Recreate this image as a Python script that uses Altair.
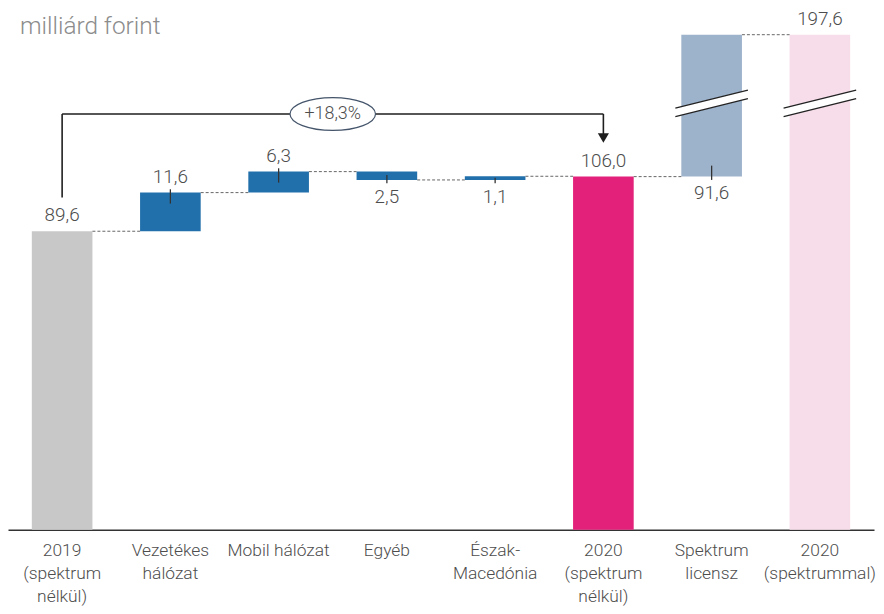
import altair as alt
import pandas as pd

# ---------------- data ----------------
categories = ["2019|(spektrum|nélkül)", "Vezetékes|hálózat", "Mobil hálózat", "Egyéb",
              "Észak-|Macedónia", "2020|(spektrum|nélkül)", "Spektrum|licensz", "2020|(spektrummal)"]
values = [89.6, 11.6, 6.3, -2.5, 1.1, 106.0, 91.6, 197.6]
is_total = [True, False, False, False, False, True, False, True]
value_labels = ["89,6", "11,6", "6,3", "2,5", "1,1", "106,0", "91,6", "197,6"]
label_below = [False, False, False, True, True, False, True, False]
bar_colors = ["#c8c8c8", "#2270ab", "#2270ab", "#2270ab", "#2270ab", "#e3207a", "#9db3cc", "#f6dde9"]
broken_bars = [6, 7]
growth_text = "+18,3%"
growth_from, growth_to = 0, 5
unit_text = "milliárd forint"

# axis break (values above BREAK_AT are shifted down by BREAK_GAP)
BREAK_AT = 128.0
BREAK_GAP = 49.0
Y_MAX = 156.1

W, H = 871, 523
STEP = W / len(categories)
P_INNER, P_OUTER = 0.44, 0.22
HALF_BW = STEP * (1 - P_INNER) / 2

FONT = "Roboto"
FW = 300
TXT = "#4d4d4d"


def disp(v):
    return v if v <= BREAK_AT else v - BREAK_GAP


rows = []
run = 0.0
for i, (c, v, tot) in enumerate(zip(categories, values, is_total)):
    if tot:
        s, e = 0.0, v
        run = v
    else:
        s, e = run, run + v
        run = e
    below = label_below[i]
    edge = min(s, e) if below else max(s, e)
    rows.append(dict(cat=c, idx=i, start=disp(s), end=disp(e), run=disp(run),
                     edge=disp(edge), label=value_labels[i], below=below,
                     total=tot, absv=abs(v)))
df = pd.DataFrame(rows)

# connectors between consecutive bars
conn = pd.DataFrame([dict(cat=categories[i], c2=categories[i + 1], level=rows[i]["run"])
                     for i in range(len(categories) - 1)])

# small ticks on the delta bars
ticks = []
for r in rows:
    if r["total"]:
        continue
    d = -1 if r["below"] else 1
    ticks.append(dict(cat=r["cat"], y1=r["edge"] + d * 1.0,
                      y2=r["edge"] - d * min(3.3, 0.6 * r["absv"])))
ticks = pd.DataFrame(ticks)

# axis break marks
brk = pd.DataFrame([dict(cat=categories[i], y1=BREAK_AT - 2.7, y2=BREAK_AT + 2.7) for i in broken_bars])

# growth arrow
ARROW_LEVEL = 124.8
arrow_start = rows[growth_from]["end"] + 10.1
arrow_end = rows[growth_to]["end"] + 11.6
arrow_v = pd.DataFrame([
    dict(cat=categories[growth_from], y1=arrow_start, y2=ARROW_LEVEL),
    dict(cat=categories[growth_to], y1=ARROW_LEVEL, y2=arrow_end),
])
arrow_h = pd.DataFrame([dict(cat=categories[growth_from], c2=categories[growth_to], level=ARROW_LEVEL)])
arrow_head = pd.DataFrame([dict(cat=categories[growth_to], y=arrow_end)])
mid_idx = (growth_from + growth_to) // 2
mid_off = ((growth_from + growth_to) / 2 - mid_idx) * STEP
growth_df = pd.DataFrame([dict(cat=categories[mid_idx], y=ARROW_LEVEL, t=growth_text)])
unit_df = pd.DataFrame([dict(t=unit_text)])

xscale = alt.Scale(domain=categories, paddingInner=P_INNER, paddingOuter=P_OUTER)
yscale = alt.Scale(domain=[0, Y_MAX], nice=False, zero=True)

xaxis = alt.Axis(title=None, labelExpr="split(datum.label, '|')", labelAngle=0, ticks=False,
                 domainColor="#333333", domainWidth=1.5, labelFontSize=17.5, labelColor=TXT,
                 labelFont=FONT, labelFontWeight=FW, labelPadding=12, labelLineHeight=23,
                 labelBaseline="top", grid=False)

X = alt.X("cat:N", scale=xscale, sort=categories, axis=xaxis)

bars = alt.Chart(df).mark_bar().encode(
    x=X,
    y=alt.Y("start:Q", scale=yscale, axis=None),
    y2="end:Q",
    color=alt.Color("cat:N", scale=alt.Scale(domain=categories, range=bar_colors), legend=None),
)

connectors = alt.Chart(conn).mark_rule(color="#666666", strokeWidth=1, strokeDash=[3, 2],
                                       xOffset=HALF_BW, x2Offset=-HALF_BW).encode(
    x=X, x2="c2:N", y=alt.Y("level:Q", scale=yscale, axis=None),
)

tick_marks = alt.Chart(ticks).mark_rule(color="#333333", strokeWidth=1.3).encode(
    x=X, y=alt.Y("y1:Q", scale=yscale, axis=None), y2="y2:Q")

lab_above = alt.Chart(df[~df.below]).mark_text(baseline="middle", dy=-16, fontSize=19, color=TXT,
                                                font=FONT, fontWeight=FW).encode(
    x=X, y=alt.Y("edge:Q", scale=yscale, axis=None), text="label:N")
lab_below = alt.Chart(df[df.below]).mark_text(baseline="middle", dy=17, fontSize=19, color=TXT,
                                               font=FONT, fontWeight=FW).encode(
    x=X, y=alt.Y("edge:Q", scale=yscale, axis=None), text="label:N")

brk_white = alt.Chart(brk).mark_rule(color="white", strokeWidth=8.5, xOffset=-HALF_BW - 6,
                                     x2Offset=HALF_BW + 6).encode(
    x=X, x2="cat:N", y=alt.Y("y1:Q", scale=yscale, axis=None), y2="y2:Q")
brk_l1 = alt.Chart(brk).mark_rule(color="#222222", strokeWidth=1.3, xOffset=-HALF_BW - 6,
                                  x2Offset=HALF_BW + 6, yOffset=-4.3, y2Offset=-4.3).encode(
    x=X, x2="cat:N", y=alt.Y("y1:Q", scale=yscale, axis=None), y2="y2:Q")
brk_l2 = alt.Chart(brk).mark_rule(color="#222222", strokeWidth=1.3, xOffset=-HALF_BW - 6,
                                  x2Offset=HALF_BW + 6, yOffset=4.3, y2Offset=4.3).encode(
    x=X, x2="cat:N", y=alt.Y("y1:Q", scale=yscale, axis=None), y2="y2:Q")

arr_v = alt.Chart(arrow_v).mark_rule(color="#1e1e1e", strokeWidth=1.6).encode(
    x=X, y=alt.Y("y1:Q", scale=yscale, axis=None), y2="y2:Q")
arr_h = alt.Chart(arrow_h).mark_rule(color="#1e1e1e", strokeWidth=1.6).encode(
    x=X, x2="c2:N", y=alt.Y("level:Q", scale=yscale, axis=None))
arr_head = alt.Chart(arrow_head).mark_point(shape="triangle-down", size=125, filled=True,
                                            color="#1e1e1e", opacity=1).encode(
    x=X, y=alt.Y("y:Q", scale=yscale, axis=None))

ELL = "M -1 0 A 1 0.384 0 1 1 1 0 A 1 0.384 0 1 1 -1 0 Z"
ellipse = alt.Chart(growth_df).mark_point(shape=ELL, size=86 * 86, filled=True, color="white",
                                          stroke="#44546a", strokeWidth=1.2, opacity=1,
                                          xOffset=mid_off).encode(
    x=X, y=alt.Y("y:Q", scale=yscale, axis=None))
growth_lab = alt.Chart(growth_df).mark_text(fontSize=18, color=TXT, font=FONT, fontWeight=FW,
                                            baseline="middle", xOffset=mid_off).encode(
    x=X, y=alt.Y("y:Q", scale=yscale, axis=None), text="t:N")

unit = alt.Chart(unit_df).mark_text(align="left", baseline="middle", fontSize=24.5, color="#8c8c8c",
                                    font=FONT, fontWeight=FW).encode(
    x=alt.value(12), y=alt.value(17), text="t:N")

chart = alt.layer(
    bars, connectors, tick_marks, brk_white, brk_l1, brk_l2,
    arr_v, arr_h, arr_head, ellipse, growth_lab, lab_above, lab_below, unit
).properties(width=W, height=H, padding=0, background="white").configure_view(stroke=None)

chart.save("out.html", embed_options={"renderer": "svg", "actions": False})
